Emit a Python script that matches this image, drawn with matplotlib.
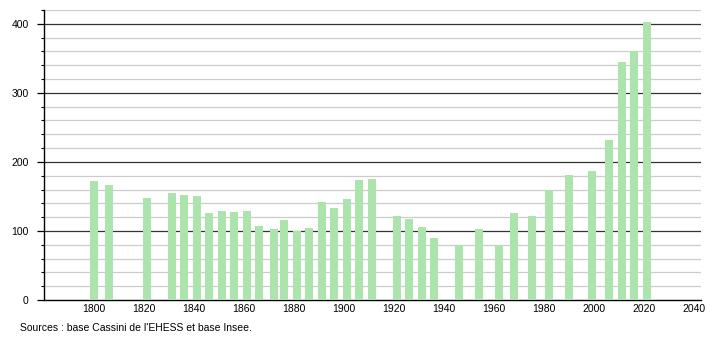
import matplotlib
matplotlib.use('Agg')
import matplotlib.pyplot as plt
from matplotlib.ticker import MultipleLocator

# census years and population
years = [1800, 1806, 1821, 1831, 1836, 1841, 1846, 1851, 1856, 1861, 1866,
         1872, 1876, 1881, 1886, 1891, 1896, 1901, 1906, 1911, 1921, 1926,
         1931, 1936, 1946, 1954, 1962, 1968, 1975, 1982, 1990, 1999, 2006,
         2011, 2016, 2021]
population = [173, 167, 148, 155, 152, 151, 126, 129, 128, 129, 107,
              103, 116, 100, 105, 142, 133, 146, 174, 175, 122, 118,
              106, 90, 79, 103, 79, 126, 122, 159, 181, 187, 232,
              345, 360, 402]
xticks = list(range(1800, 2041, 20))
source_text = "Sources : base Cassini de l'EHESS et base Insee."

plt.rcParams['font.family'] = ['Liberation Sans', 'DejaVu Sans']

fig = plt.figure(figsize=(7.1, 3.4), dpi=100)
ax = fig.add_axes([0.062, 0.1176, 0.925, 0.853])

ax.bar(years, population, width=3.2, color='#ade3ad', zorder=3)

ax.set_xlim(1780, 2042.7)
ax.set_ylim(0, 420)

# grid: light every 20, dark every 100
for v in range(20, 421, 20):
    if v % 100 == 0:
        ax.axhline(v, color='#333333', lw=0.9, zorder=1)
    else:
        ax.axhline(v, color='#cccccc', lw=0.9, zorder=1)

ax.set_xticks(xticks)
ax.set_xticklabels([str(x) for x in xticks])
ax.yaxis.set_major_locator(MultipleLocator(100))
ax.yaxis.set_minor_locator(MultipleLocator(20))
ax.tick_params(axis='x', length=0, pad=3, labelsize=7.5)
ax.tick_params(axis='y', which='major', length=5, width=0.9, pad=6, labelsize=7.5)
ax.tick_params(axis='y', which='minor', length=2.5, width=0.8)

for s in ['top', 'right']:
    ax.spines[s].set_visible(False)
ax.spines['left'].set_linewidth(1.0)
ax.spines['bottom'].set_linewidth(1.0)

fig.text(20 / 710, 1 - 328 / 340, source_text, fontsize=7.5, va='center', ha='left')

fig.savefig('out.png', dpi=100)
